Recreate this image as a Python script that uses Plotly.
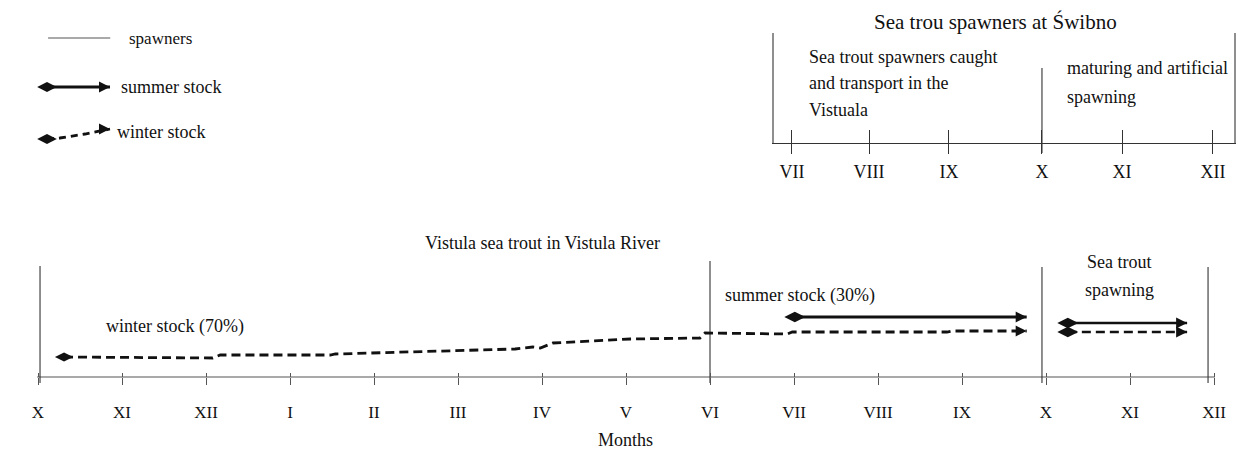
import plotly.graph_objects as go

# ---------------- data ----------------
# main timeline: month index 0..14 (X of year 1 .. XII of year 2)
main_months = ["X", "XI", "XII", "I", "II", "III", "IV", "V", "VI",
               "VII", "VIII", "IX", "X", "XI", "XII"]
main_tick_pos = list(range(len(main_months)))
axis_start, axis_end = -0.01, 14.01

# winter stock (70%) path: month position and relative level
winter_x = [0.31, 2.08, 2.17, 3.48, 3.54, 4.43, 5.08, 5.68, 5.89, 5.98, 6.13,
            6.69, 7.05, 7.88, 7.94, 8.92, 8.98, 10.82, 10.88, 11.77]
winter_y = [20, 19, 22, 22, 23, 25, 26, 28, 30, 29, 34,
            36, 38, 39, 44, 43, 45, 45, 46, 46]

# summer stock (30%)
summer_x = [9.01, 11.77]
summer_y = [60, 60]

# spawning period arrows
spawn_summer_x = [12.26, 13.68]
spawn_summer_y = [54, 54]
spawn_winter_x = [12.26, 13.68]
spawn_winter_y = [45, 45]

# spawner boundary lines in the main panel (x, bottom, top)
spawner_lines_x = [0.024, 8.0, 11.952, 13.929]
spawner_lines_top = [111, 116, 110, 110]
spawner_lines_bottom = -6

# inset: Sea trout spawners at Świbno
inset_months = ["VII", "VIII", "IX", "X", "XI", "XII"]
inset_tick_pos = [8.976, 9.893, 10.845, 11.952, 12.905, 13.988]
inset_frame_x = [8.75, 14.25]
inset_frame_top, inset_frame_bottom = 344, 234
inset_mid_x = 11.952
inset_mid_top, inset_mid_bottom = 309, 224

# legend samples
leg_spawn_x = [0.12, 0.86]
leg_spawn_y = [339, 339]
leg_summer_x = [0.107, 0.857]
leg_summer_y = [290, 290]
leg_winter_x = [0.107, 0.26, 0.56, 0.857]
leg_winter_y = [238, 239, 243, 248]

FONT = "Liberation Serif"
BLACK = "#111111"
GREY = "#444444"

fig = go.Figure()


def line(x, y, width=1.0, color=GREY, dash="solid", axis="x"):
    fig.add_trace(go.Scatter(x=x, y=y, mode="lines", xaxis=axis, yaxis="y",
                             line=dict(color=color, width=width, dash=dash),
                             hoverinfo="skip", showlegend=False))


def ends(x0, y0, x1, y1, dsize):
    fig.add_trace(go.Scatter(x=[x0], y=[y0], mode="markers",
                             marker=dict(symbol="diamond-wide", size=dsize, color=BLACK,
                                         line=dict(width=0)),
                             hoverinfo="skip", showlegend=False, cliponaxis=False))
    fig.add_trace(go.Scatter(x=[x1], y=[y1], mode="markers",
                             marker=dict(symbol="arrow-right", size=11, color=BLACK,
                                         line=dict(width=0)),
                             hoverinfo="skip", showlegend=False, cliponaxis=False))


DASH = "9px,5px"

# main axis line
line([axis_start, axis_end], [0, 0], width=1.2, color="#555555")

# spawner vertical lines
for xv, top in zip(spawner_lines_x, spawner_lines_top):
    line([xv, xv], [spawner_lines_bottom, top], width=1.1, color="#333333")

# winter stock
line(winter_x, winter_y, width=2.8, color=BLACK, dash=DASH)
ends(winter_x[0], winter_y[0], winter_x[-1], winter_y[-1], 13)

# summer stock
line(summer_x, summer_y, width=2.8, color=BLACK)
ends(summer_x[0], summer_y[0], summer_x[-1], summer_y[-1], 15)

# spawning arrows
line(spawn_summer_x, spawn_summer_y, width=2.6, color=BLACK)
ends(spawn_summer_x[0], spawn_summer_y[0], spawn_summer_x[-1], spawn_summer_y[-1], 15)
line(spawn_winter_x, spawn_winter_y, width=2.6, color=BLACK, dash=DASH)
ends(spawn_winter_x[0], spawn_winter_y[0], spawn_winter_x[-1], spawn_winter_y[-1], 15)

# inset frame
for xv in inset_frame_x:
    line([xv, xv], [inset_frame_bottom, inset_frame_top], width=1.1, color="#333333")
line([inset_mid_x, inset_mid_x], [inset_mid_bottom, inset_mid_top], width=1.1, color="#333333")

# legend samples
line(leg_spawn_x, leg_spawn_y, width=1.0, color="#555555")
line(leg_summer_x, leg_summer_y, width=2.8, color=BLACK)
ends(leg_summer_x[0], leg_summer_y[0], leg_summer_x[-1], leg_summer_y[-1], 14)
line(leg_winter_x, leg_winter_y, width=2.8, color=BLACK, dash="7px,5px")
ends(leg_winter_x[0], leg_winter_y[0], leg_winter_x[-1], leg_winter_y[-1], 14)

# invisible anchors so the inset / overlay axes get drawn
for ax in ["x2", "x3", "x4"]:
    fig.add_trace(go.Scatter(x=[inset_tick_pos[0]], y=[inset_frame_bottom], xaxis=ax,
                             yaxis="y", mode="markers", marker=dict(opacity=0),
                             hoverinfo="skip", showlegend=False))

# ---------------- text ----------------
texts = [
    ("Vistula sea trout in Vistula River", 6.006, 134, "center", 18),
    ("winter stock (70%)", 1.625, 51, "center", 18),
    ("summer stock (30%)", 9.07, 82, "center", 18),
    ("Sea trout", 12.87, 115, "center", 18),
    ("spawning", 12.88, 87, "center", 18),
    ("Months", 6.99, -63, "center", 18),
    ("Sea trou spawners at Świbno", 11.40, 355, "center", 21),
    ("Sea trout spawners caught", 9.155, 320, "left", 18),
    ("and transport in the", 9.155, 294, "left", 18),
    ("Vistuala", 9.155, 267, "left", 18),
    ("maturing and artificial", 12.226, 309, "left", 18),
    ("spawning", 12.226, 280, "left", 18),
    ("spawners", 1.06, 339, "left", 17),
    ("summer stock", 0.964, 290, "left", 18),
    ("winter stock", 0.917, 245, "left", 18),
]
for t, x, y, anc, size in texts:
    fig.add_annotation(text=t, x=x, y=y, xref="x", yref="y", xanchor=anc,
                       yanchor="middle", showarrow=False,
                       font=dict(family=FONT, size=size, color=BLACK))

axis_font = dict(family=FONT, size=17, color=BLACK)
pos_main = 75 / 452
pos_inset = (234 + 75) / 452

fig.update_layout(
    width=1238, height=452,
    margin=dict(l=0, r=0, t=0, b=0),
    paper_bgcolor="white", plot_bgcolor="rgba(0,0,0,0)",
    showlegend=False,
    xaxis=dict(domain=[0, 1], range=[-38 / 84, 1200 / 84], anchor="free",
               position=pos_main, showgrid=False, zeroline=False, showline=False,
               tickmode="array", tickvals=main_tick_pos, ticktext=main_months,
               ticks="outside", ticklen=7, tickwidth=1.1, tickcolor="#555555",
               tickfont=axis_font, ticklabelstandoff=13, fixedrange=True),
    xaxis4=dict(overlaying="x", range=[-38 / 84, 1200 / 84], anchor="free",
                position=pos_main, showgrid=False, zeroline=False, showline=False,
                tickmode="array", tickvals=main_tick_pos, showticklabels=False,
                ticks="inside", ticklen=4, tickwidth=1.1, tickcolor="#555555",
                fixedrange=True),
    xaxis2=dict(domain=[772 / 1238, 1236 / 1238], range=[734 / 84, 1198 / 84],
                anchor="free", position=pos_inset, showgrid=False, zeroline=False,
                showline=True, linecolor="#333333", linewidth=1.2,
                tickmode="array", tickvals=inset_tick_pos, ticktext=inset_months,
                ticks="outside", ticklen=10, tickwidth=1.1, tickcolor="#333333",
                tickfont=dict(family=FONT, size=18, color=BLACK), ticklabelstandoff=2,
                fixedrange=True),
    xaxis3=dict(overlaying="x2", range=[734 / 84, 1198 / 84], anchor="free",
                position=pos_inset, showgrid=False, zeroline=False, showline=False,
                tickmode="array", tickvals=inset_tick_pos, showticklabels=False,
                ticks="inside", ticklen=13, tickwidth=1.1, tickcolor="#333333",
                fixedrange=True),
    yaxis=dict(domain=[0, 1], range=[-75, 377], visible=False, fixedrange=True),
)

fig.write_html("out.html", config={"displayModeBar": False},
               post_script="document.body.style.margin='0';document.body.style.padding='0';")
